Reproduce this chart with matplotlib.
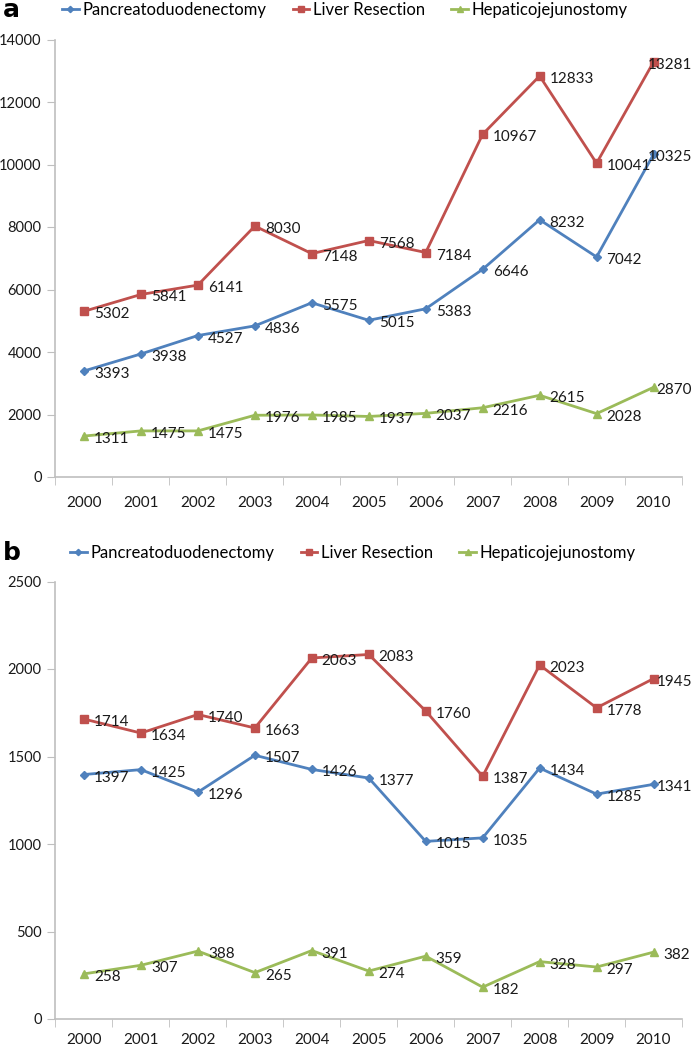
import matplotlib
matplotlib.use("Agg")
import matplotlib.pyplot as plt
import numpy as np

plt.rcParams["font.family"] = ["Lato", "DejaVu Sans"]

years = [2000, 2001, 2002, 2003, 2004, 2005, 2006, 2007, 2008, 2009, 2010]
series_names = ["Pancreatoduodenectomy", "Liver Resection", "Hepaticojejunostomy"]

# panel a
pd_a = [3393, 3938, 4527, 4836, 5575, 5015, 5383, 6646, 8232, 7042, 10325]
lr_a = [5302, 5841, 6141, 8030, 7148, 7568, 7184, 10967, 12833, 10041, 13281]
hj_a = [1311, 1475, 1475, 1976, 1985, 1937, 2037, 2216, 2615, 2028, 2870]

# panel b
pd_b = [1397, 1425, 1296, 1507, 1426, 1377, 1015, 1035, 1434, 1285, 1341]
lr_b = [1714, 1634, 1740, 1663, 2063, 2083, 1760, 1387, 2023, 1778, 1945]
hj_b = [258, 307, 388, 265, 391, 274, 359, 182, 328, 297, 382]

COLORS = ["#4F81BD", "#C0504D", "#9BBB59"]
MARKERS = [("D", 4.0), ("s", 5.2), ("^", 5.8)]
SPINE = "#BFBFBF"
INK = "#1a1a1a"

W, H = 700, 1050
fig = plt.figure(figsize=(W / 100, H / 100), dpi=100)

ax_a = fig.add_axes([55.5 / W, 1 - 477 / H, (682 - 55.5) / W, (477 - 39.5) / H])
ax_b = fig.add_axes([55.5 / W, 1 - 1019 / H, (682 - 55.5) / W, (1019 - 581.5) / H])

labels_all = []


def draw_panel(ax, tag, data, ymax, step, legend_y, legend_x, xpad):
    x = np.arange(len(years))
    for vals, name, col, (mk, ms) in zip(data, series_names, COLORS, MARKERS):
        ax.plot(x, vals, color=col, lw=2, marker=mk, ms=ms, mec=col, mfc=col,
                label=name, zorder=3)
        for xi, v in zip(x, vals):
            t = ax.annotate(str(v), (xi, v), xytext=(10, -3), textcoords="offset pixels",
                            ha="left", va="center", fontsize=11, color=INK, zorder=4)
            labels_all.append(t)

    ax.set_xlim(-0.5, len(years) - 0.5)
    ax.set_ylim(0, ymax)
    ax.set_yticks(np.arange(0, ymax + 1, step))
    ax.set_xticks(x)
    ax.set_xticklabels([str(y) for y in years])
    ax.set_xticks(np.arange(-0.5, len(years)), minor=True)
    ax.tick_params(axis="x", which="major", length=0, pad=xpad, labelsize=11,
                   labelcolor=INK)
    ax.tick_params(axis="x", which="minor", length=6, color=SPINE, direction="out")
    ax.tick_params(axis="y", length=6, color=SPINE, pad=4, labelsize=10.5,
                   labelcolor=INK)
    for s in ("top", "right"):
        ax.spines[s].set_visible(False)
    for s in ("left", "bottom"):
        ax.spines[s].set_color(SPINE)
        ax.spines[s].set_linewidth(1.2)

    fig.text(3 / W, 1 - legend_y / H, tag, fontsize=18, fontweight="bold",
             ha="left", va="center", family=["DejaVu Sans"])
    ax.legend(loc="center left", bbox_to_anchor=(legend_x / W, 1 - legend_y / H),
              bbox_transform=fig.transFigure, ncol=3, frameon=False, fontsize=12,
              handlelength=1.0, handletextpad=0.2, columnspacing=1.6,
              borderaxespad=0, borderpad=0, markerscale=0.8)


draw_panel(ax_a, "a", [pd_a, lr_a, hj_a], 14000, 2000, 10, 62, 14)
draw_panel(ax_b, "b", [pd_b, lr_b, hj_b], 2500, 500, 553, 70, 10)

# keep value labels inside the figure width
fig.canvas.draw()
renderer = fig.canvas.get_renderer()
for t in labels_all:
    bb = t.get_window_extent(renderer)
    if bb.x1 > W - 8:
        ox, oy = t.xyann
        t.xyann = (ox - (bb.x1 - (W - 8)), oy)

fig.savefig("out.png", dpi=100)
